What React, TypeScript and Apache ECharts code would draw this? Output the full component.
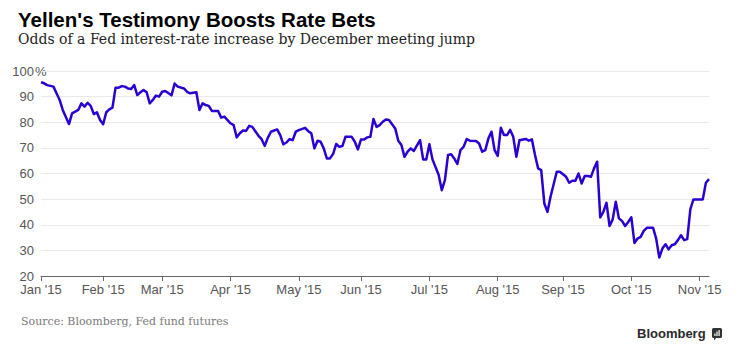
import React, { useEffect, useRef } from "react";
import * as echarts from "echarts";

// ---- calendar of trading days shown on the x axis ----
const FIRST_DAY = "2015-01-02";
const LAST_DAY = "2015-11-05";
const HOLIDAYS = ["2015-01-19", "2015-02-16", "2015-05-25", "2015-07-03"];
const MONTH_NAMES = ["Jan", "Feb", "Mar", "Apr", "May", "Jun", "Jul", "Aug", "Sep", "Oct", "Nov", "Dec"];

// ---- y axis ----
const Y_MIN = 20;
const Y_MAX = 100;
const Y_STEP = 10;

// ---- odds of a Fed rate increase by December (%), [trading-day number, value] ----
const ODDS: [number, number][] = [
  [0, 95.6], [1, 95.2], [2, 94.5], [4, 93.9], [5, 91.3], [6, 88.7], [7, 84.8], [9, 79.3],
  [10, 83.5], [12, 84.8], [13, 87.4], [14, 86.1], [15, 87.6], [16, 86.4], [17, 83.2], [18, 83.9],
  [19, 80.9], [20, 79.2], [21, 83.9], [22, 85.0], [23, 85.7], [24, 93.5], [25, 93.5], [26, 94.1],
  [27, 93.9], [28, 93.2], [29, 93.0], [30, 94.5], [31, 90.6], [32, 91.7], [33, 92.6], [34, 91.7],
  [35, 87.4], [36, 88.7], [37, 90.4], [38, 90.0], [39, 91.9], [40, 92.2], [42, 90.5], [43, 95.1],
  [44, 93.9], [46, 93.2], [47, 91.9], [48, 91.3], [50, 91.7], [51, 84.8], [52, 87.4], [53, 86.7],
  [54, 86.4], [55, 84.4], [57, 84.4], [58, 81.8], [59, 82.2], [61, 79.6], [62, 78.9], [63, 74.1],
  [64, 75.7], [65, 76.8], [66, 76.6], [67, 78.6], [68, 78.2], [70, 74.7], [71, 73.4], [72, 70.8],
  [73, 73.9], [74, 76.3], [76, 77.2], [77, 75.0], [78, 71.4], [79, 72.1], [80, 73.4], [81, 73.0],
  [82, 76.3], [83, 76.9], [85, 77.8], [86, 76.5], [87, 75.7], [88, 69.8], [89, 72.8], [90, 72.4],
  [91, 69.8], [92, 65.9], [93, 65.9], [94, 67.6], [95, 71.5], [96, 70.4], [97, 70.7], [98, 74.3],
  [100, 74.3], [101, 72.4], [102, 69.4], [103, 73.3], [104, 73.3], [105, 74.1], [106, 74.3], [107, 81.3],
  [108, 78.2], [109, 78.9], [110, 80.2], [111, 81.1], [112, 80.9], [114, 77.6], [115, 72.8], [116, 71.1],
  [117, 66.5], [118, 68.5], [119, 69.8], [120, 68.8], [122, 73.0], [123, 65.5], [124, 65.5], [125, 71.4],
  [126, 65.5], [128, 59.4], [129, 53.5], [130, 57.4], [131, 67.2], [132, 67.5], [133, 65.9], [134, 63.7],
  [135, 69.1], [136, 70.4], [137, 73.4], [138, 72.8], [140, 72.7], [141, 71.7], [142, 68.5], [143, 69.1],
  [144, 73.7], [145, 76.3], [146, 69.1], [147, 66.9], [148, 77.9], [149, 75.0], [150, 75.0], [151, 77.0],
  [152, 74.3], [153, 66.5], [154, 73.0], [156, 73.5], [157, 72.8], [158, 73.3], [159, 67.2], [160, 62.0],
  [161, 61.3], [162, 48.3], [163, 45.0], [164, 50.9], [166, 60.7], [167, 60.7], [169, 58.7], [170, 56.4],
  [171, 57.2], [172, 57.2], [173, 60.0], [174, 56.1], [175, 59.0], [176, 59.0], [177, 58.7], [178, 62.0],
  [179, 64.6], [180, 42.9], [181, 45.0], [182, 48.6], [183, 39.5], [184, 42.1], [185, 49.0], [186, 42.5],
  [187, 41.5], [188, 39.5], [189, 41.1], [190, 42.9], [191, 32.9], [192, 34.6], [193, 35.3], [194, 37.6],
  [195, 38.8], [197, 38.8], [198, 34.6], [199, 27.2], [200, 30.7], [201, 32.4], [202, 30.4], [203, 32.0],
  [204, 32.4], [205, 34.0], [206, 35.9], [207, 34.0], [208, 34.4], [209, 46.1], [210, 49.9], [213, 49.9],
  [214, 56.4], [215, 57.8],
];

const TITLE = "Yellen's Testimony Boosts Rate Bets";
const SUBTITLE = "Odds of a Fed interest-rate increase by December meeting jump";
const SOURCE = "Source: Bloomberg, Fed fund futures";
const BRAND = "Bloomberg";

function pad(n: number) {
  return n < 10 ? "0" + n : "" + n;
}

function tradingDays(first: string, last: string, holidays: string[]): string[] {
  const out: string[] = [];
  const d = new Date(first + "T00:00:00Z");
  const end = new Date(last + "T00:00:00Z");
  while (d.getTime() <= end.getTime()) {
    const wd = d.getUTCDay();
    const s = `${d.getUTCFullYear()}-${pad(d.getUTCMonth() + 1)}-${pad(d.getUTCDate())}`;
    if (wd !== 0 && wd !== 6 && holidays.indexOf(s) < 0) out.push(s);
    d.setUTCDate(d.getUTCDate() + 1);
  }
  return out;
}

const DAYS = tradingDays(FIRST_DAY, LAST_DAY, HOLIDAYS);
const MONTH_START = new Set<number>();
DAYS.forEach((s, i) => {
  if (i === 0 || s.slice(5, 7) !== DAYS[i - 1].slice(5, 7)) MONTH_START.add(i);
});

function monthLabel(s: string) {
  return `${MONTH_NAMES[parseInt(s.slice(5, 7), 10) - 1]} '${s.slice(2, 4)}`;
}

const SANS = "'Liberation Sans', Arial, Helvetica, sans-serif";
const SERIF = "'DejaVu Serif', Georgia, serif";
const LABEL_COLOR = "#555555";
const LINE_COLOR = "#2a00d2";

export default function App() {
  const ref = useRef<HTMLDivElement>(null);

  useEffect(() => {
    if (!ref.current) return;
    const chart = echarts.init(ref.current, null, { renderer: "svg" });
    const option: any = {
      animation: false,
      backgroundColor: "#ffffff",
      grid: { left: 41, right: 26, top: 71, bottom: 75, containLabel: false },
      xAxis: {
        type: "category",
        data: DAYS,
        boundaryGap: false,
        axisLine: { show: true, lineStyle: { color: "#666666", width: 1 } },
        axisTick: {
          show: true,
          length: 5,
          interval: (i: number) => MONTH_START.has(i),
          lineStyle: { color: "#666666", width: 1 },
        },
        axisLabel: {
          interval: (i: number) => MONTH_START.has(i),
          formatter: (v: string) => monthLabel(v),
          color: LABEL_COLOR,
          fontSize: 13,
          fontFamily: SANS,
          margin: 7,
        },
        splitLine: { show: false },
      },
      yAxis: {
        type: "value",
        min: Y_MIN,
        max: Y_MAX,
        interval: Y_STEP,
        axisLine: { show: false },
        axisTick: { show: false },
        axisLabel: {
          color: LABEL_COLOR,
          fontSize: 13,
          fontFamily: SANS,
          align: "right",
          margin: 7,
        },
        splitLine: { show: true, lineStyle: { color: "#e9e9e9", width: 1 } },
      },
      series: [
        {
          type: "line",
          data: ODDS,
          showSymbol: false,
          symbol: "none",
          smooth: false,
          lineStyle: { color: LINE_COLOR, width: 2.5, join: "round" },
          z: 5,
        },
      ],
      graphic: [
        {
          type: "text",
          left: 18,
          top: 9,
          style: { text: TITLE, fill: "#000000", font: `bold 20.5px ${SANS}` },
        },
        {
          type: "text",
          left: 18,
          top: 32,
          style: { text: SUBTITLE, fill: "#222222", font: `14px ${SERIF}` },
        },
        {
          type: "text",
          x: 35,
          y: 71,
          style: {
            text: "%",
            fill: LABEL_COLOR,
            font: `13px ${SANS}`,
            verticalAlign: "middle",
            align: "left",
          },
        },
        {
          type: "text",
          left: 21,
          top: 316,
          style: { text: SOURCE, fill: "#7a7a7a", font: `11px ${SERIF}` },
        },
        {
          type: "text",
          left: 637,
          top: 327,
          style: { text: BRAND, fill: "#2a2a2a", font: `bold 13px ${SANS}` },
        },
        {
          type: "group",
          left: 712,
          top: 328,
          children: [
            { type: "rect", shape: { x: 0, y: 0, width: 10, height: 10, r: 1.5 }, style: { fill: "#333333" } },
            { type: "polygon", shape: { points: [[2, 9], [5, 9], [2, 12.5]] }, style: { fill: "#333333" } },
            { type: "rect", shape: { x: 2.3, y: 5.5, width: 1.2, height: 2.5 }, style: { fill: "#ffffff" } },
            { type: "rect", shape: { x: 4.4, y: 3.5, width: 1.2, height: 4.5 }, style: { fill: "#ffffff" } },
            { type: "rect", shape: { x: 6.5, y: 2, width: 1.2, height: 6 }, style: { fill: "#ffffff" } },
          ],
        },
      ],
    };
    chart.setOption(option);
    return () => chart.dispose();
  }, []);

  return <div ref={ref} style={{ width: 735, height: 351, position: "absolute", left: 0, top: 0 }} />;
}
